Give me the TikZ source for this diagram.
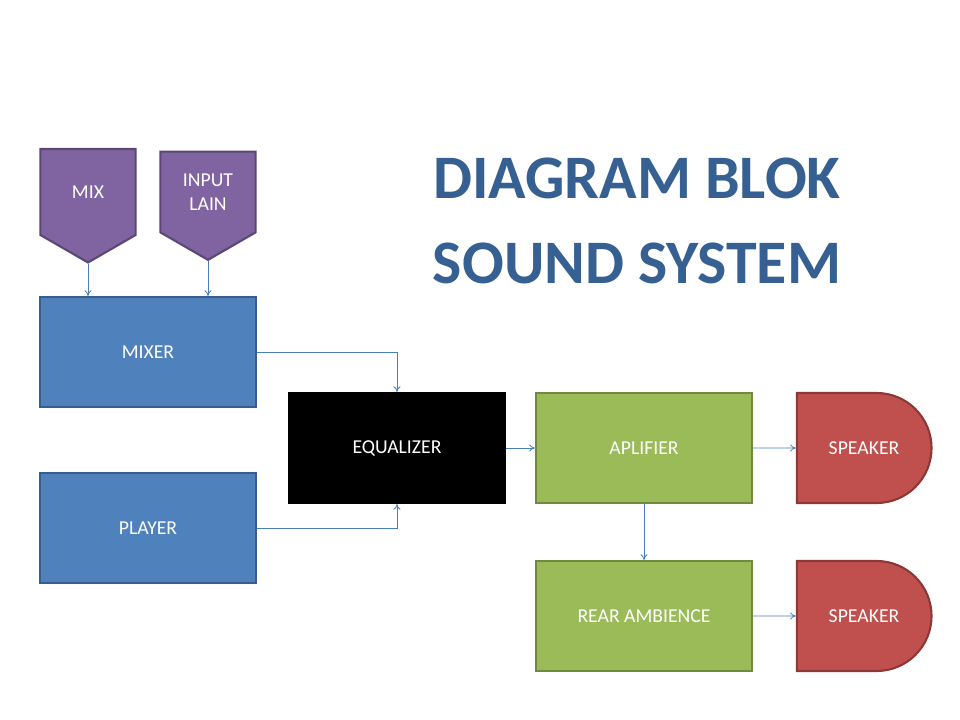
\documentclass[tikz,border=0pt]{standalone}
\usepackage{fontspec}
\setmainfont{Carlito}
\usetikzlibrary{shapes.symbols,shapes.misc,arrows.meta}
\definecolor{purp}{HTML}{8064A2}
\definecolor{purpline}{HTML}{5C4776}
\definecolor{blu}{HTML}{4F81BD}
\definecolor{bluline}{HTML}{385D8A}
\definecolor{grn}{HTML}{9BBB59}
\definecolor{grnline}{HTML}{71893F}
\definecolor{rd}{HTML}{C0504D}
\definecolor{rdline}{HTML}{8C3836}
\definecolor{titlecol}{HTML}{376092}
\definecolor{arrowcol}{HTML}{4A7EBB}
\tikzset{
  lbl/.style={text=white, font=\fontsize{14}{17}\selectfont, align=center},
  box/.style={lbl, draw, line width=1.5pt, minimum width=5.4cm, minimum height=2.75cm, inner sep=0pt},
  source/.style={lbl, shape=signal, signal to=south, signal pointer angle=120, fill=purp, draw=purpline, line width=1.5pt, minimum width=2.38cm, minimum height=2.38cm, inner sep=0pt},
  speaker/.style={lbl, shape=rounded rectangle, rounded rectangle left arc=none, fill=rd, draw=rdline, line width=1.5pt, minimum width=3.6cm, minimum height=2.75cm},
  flow/.style={draw=arrowcol, line width=0.6pt, -{To[length=4pt,width=5pt]}}
}
\begin{document}
\begin{tikzpicture}[x=0.025cm,y=-0.025cm]
	\useasboundingbox (0,0) rectangle (960,720);
	% sources
	\node[source] (mix) at (88,192) {MIX};
	\node[source] (input) at (208,192) {INPUT\\LAIN};
	% main chain
	\node[box, fill=blu, draw=bluline] (mixer) at (148,352) {MIXER};
	\node[box, fill=blu, draw=bluline] (player) at (148,528) {PLAYER};
	\node[box, fill=black, draw=black] (eq) at (397,448) {EQUALIZER};
	\node[box, fill=grn, draw=grnline] (amp) at (644,448) {APLIFIER};
	\node[box, fill=grn, draw=grnline] (rear) at (644,616) {REAR AMBIENCE};
	\node[speaker] (spk1) at (864,448) {SPEAKER};
	\node[speaker] (spk2) at (864,616) {SPEAKER};
	% title
	\node[text=titlecol, font=\fontsize{44}{60}\selectfont\bfseries, align=center] (title) at (637,221) {DIAGRAM BLOK\\SOUND SYSTEM};
	% connectors
	\draw[flow] (mix.south) -- (mix.south |- mixer.north);
	\draw[flow] (input.south) -- (input.south |- mixer.north);
	\draw[flow] (mixer.east) -| (eq.north);
	\draw[flow] (player.east) -| (eq.south);
	\draw[flow] (eq) -- (amp);
	\draw[flow] (amp) -- (spk1);
	\draw[flow] (amp) -- (rear);
	\draw[flow] (rear) -- (spk2);
\end{tikzpicture}
\end{document}
